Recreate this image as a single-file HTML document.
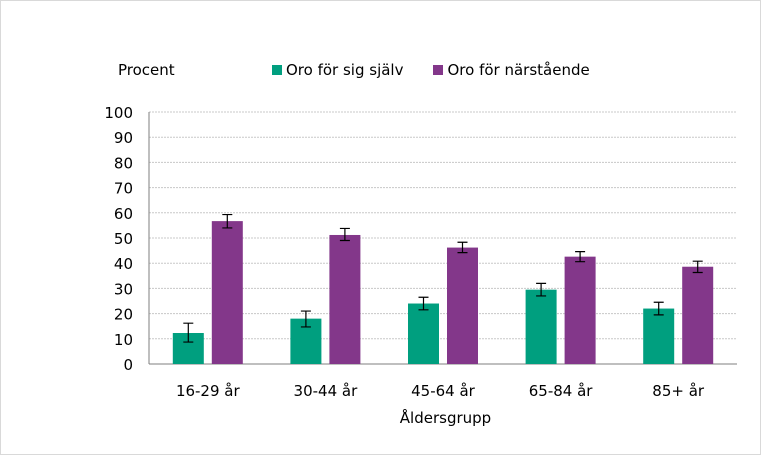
<!DOCTYPE html>
<html><head><meta charset="utf-8"><style>
body{margin:0;background:#fff;font-family:"DejaVu Sans","Liberation Sans",sans-serif;}
#wrap{position:relative;width:759px;height:453px;border:1px solid #d9d9d9;}
</style></head><body>
<div id="wrap">
<svg id="chart" width="759" height="453" xmlns="http://www.w3.org/2000/svg" font-family="DejaVu Sans, Liberation Sans, sans-serif" font-size="15" fill="#000"></svg>
</div>
<script>
const categories=["16-29 år","30-44 år","45-64 år","65-84 år","85+ år"];
const selfVals=[12.3,18,24,29.5,22];
const selfLo=[8.7,14.7,21.5,27,19.5];
const selfHi=[16.2,21,26.5,32,24.5];
const closeVals=[56.7,51.2,46.2,42.6,38.6];
const closeLo=[54,49,44.2,40.6,36.3];
const closeHi=[59.3,53.8,48.3,44.6,40.8];
const yTicks=[0,10,20,30,40,50,60,70,80,90,100];
const NS="http://www.w3.org/2000/svg";
const svg=document.getElementById('chart');
const x0=148,x1=736,yb=363,yt=111;
const y=v=>yb-(v/100)*(yb-yt);
const band=(x1-x0)/categories.length;
const cx=i=>x0+band*(i+0.5);
function mk(t,a){const e=document.createElementNS(NS,t);for(const k in a)e.setAttribute(k,a[k]);svg.appendChild(e);return e;}
yTicks.forEach(t=>{
  if(t>0){const g=mk('line',{x1:x0,x2:x1,y1:y(t),y2:y(t),stroke:'#c8c8c8','stroke-dasharray':'2,1'});
  
  }
  const l=mk('text',{x:x0-16,y:y(t)+6,'text-anchor':'end'});l.textContent=t;
  
  
});
const ax=mk('line',{x1:x0,x2:x0,y1:yt,y2:yb,stroke:'#7f7f7f'});


const bx=mk('line',{x1:x0,x2:x1,y1:yb,y2:yb,stroke:'#7f7f7f'});


function bar(xl,v,lo,hi,col,name){
  const r=mk('rect',{x:xl,y:y(v),width:31,height:yb-y(v),fill:col});
  
  
  const m=xl+15.5;
  const e=mk('path',{d:`M${m-5},${y(hi)}H${m+5}M${m},${y(hi)}V${y(lo)}M${m-5},${y(lo)}H${m+5}`,stroke:'#000',fill:'none','stroke-width':1.2});
  
  
}
categories.forEach((c,i)=>{
  bar(cx(i)-35,selfVals[i],selfLo[i],selfHi[i],'#009f7f','bar-self-'+i);
  bar(cx(i)+4,closeVals[i],closeLo[i],closeHi[i],'#83378a','bar-close-'+i);
  const l=mk('text',{x:cx(i),y:395,'text-anchor':'middle'});l.textContent=c;
  
  
});
</script>
<div style="position:absolute;left:118px;top:61px;font-size:15px">Procent</div>
<div style="position:absolute;left:0;width:891px;top:409px;font-size:15px;text-align:center">Åldersgrupp</div>
<div style="position:absolute;left:272px;top:61px;font-size:15px;display:flex;align-items:center">
<span style="width:10px;height:10px;background:#009f7f;display:inline-block;margin-right:4px"></span><span>Oro för sig själv</span>
<span style="width:10px;height:10px;background:#83378a;display:inline-block;margin:0 4px 0 30px"></span><span>Oro för närstående</span>
</div>
</body></html>
